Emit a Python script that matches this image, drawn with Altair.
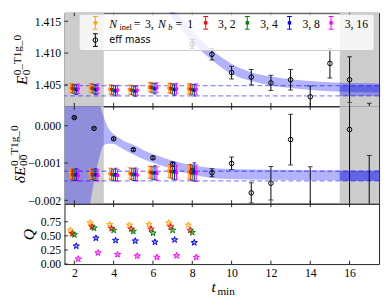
import altair as alt
import pandas as pd

# ---------------- data ----------------
x_ticks = [2, 4, 6, 8, 10, 12, 14, 16]
top_ticks = [1.405, 1.410, 1.415]
mid_ticks = [-0.002, -0.001, 0.000]
q_ticks = [0.00, 0.25, 0.50, 0.75]

gray_start = [1.5, 15.5]
gray_end = [3.5, 17.5]

t_fit = [2, 3, 4, 5, 6, 7, 8]
nb_labels = ["1", "2", "4", "8", "16"]
nb_colors = ["orange", "red", "green", "blue", "magenta"]
nb_shift = [-0.2, -0.1, 0.0, 0.1, 0.2]

E0_nb1 = [1.40450, 1.40450, 1.40430, 1.40425, 1.40465, 1.40450, 1.40440]
E0_nb2 = [1.40445, 1.40445, 1.40425, 1.40420, 1.40460, 1.40445, 1.40435]
E0_nb4 = [1.40435, 1.40435, 1.40415, 1.40410, 1.40450, 1.40435, 1.40425]
E0_nb8 = [1.40425, 1.40425, 1.40405, 1.40400, 1.40440, 1.40425, 1.40415]
E0_nb16 = [1.40440, 1.40440, 1.40420, 1.40415, 1.40455, 1.40440, 1.40430]
E0err_nb1 = [0.00070, 0.00070, 0.00072, 0.00072, 0.00075, 0.00078, 0.00080]
E0err_nb2 = [0.00070, 0.00071, 0.00072, 0.00073, 0.00075, 0.00078, 0.00081]
E0err_nb4 = [0.00072, 0.00072, 0.00074, 0.00074, 0.00077, 0.00080, 0.00083]
E0err_nb8 = [0.00078, 0.00078, 0.00080, 0.00080, 0.00083, 0.00088, 0.00092]
E0err_nb16 = [0.00075, 0.00075, 0.00076, 0.00077, 0.00080, 0.00084, 0.00087]

dE_nb1 = [-0.00128, -0.00128, -0.00128, -0.00127, -0.00124, -0.00121, -0.00123]
dE_nb2 = [-0.00130, -0.00130, -0.00130, -0.00129, -0.00125, -0.00122, -0.00124]
dE_nb4 = [-0.00132, -0.00132, -0.00132, -0.00131, -0.00127, -0.00124, -0.00126]
dE_nb8 = [-0.00131, -0.00131, -0.00131, -0.00130, -0.00126, -0.00122, -0.00124]
dE_nb16 = [-0.00133, -0.00133, -0.00133, -0.00132, -0.00128, -0.00125, -0.00127]
dEerr_nb1 = [0.00014, 0.00014, 0.00015, 0.00015, 0.00016, 0.00018, 0.00020]
dEerr_nb2 = [0.00014, 0.00014, 0.00015, 0.00015, 0.00016, 0.00018, 0.00020]
dEerr_nb4 = [0.00015, 0.00015, 0.00015, 0.00016, 0.00017, 0.00019, 0.00021]
dEerr_nb8 = [0.00016, 0.00016, 0.00017, 0.00017, 0.00019, 0.00023, 0.00025]
dEerr_nb16 = [0.00015, 0.00015, 0.00016, 0.00016, 0.00018, 0.00020, 0.00022]

Q_nb1 = [0.60, 0.73, 0.70, 0.69, 0.70, 0.73, 0.69]
Q_nb2 = [0.54, 0.66, 0.63, 0.62, 0.62, 0.66, 0.60]
Q_nb4 = [0.52, 0.64, 0.60, 0.58, 0.55, 0.60, 0.56]
Q_nb8 = [0.32, 0.46, 0.42, 0.41, 0.39, 0.43, 0.38]
Q_nb16 = [0.09, 0.20, 0.17, 0.145, 0.12, 0.15, 0.12]

# effective mass
t_eff_top = [7, 8, 9, 10, 11, 12, 13, 14, 15, 16, 17]
E_eff = [1.41690, 1.41143, 1.40980, 1.40694, 1.40622, 1.40531, 1.40581,
         1.40312, 1.40837, 1.40581, 1.39850]
E_eff_err = [0.00060, 0.00070, 0.00090, 0.00100, 0.00120, 0.00120, 0.00160,
             0.00170, 0.00230, 0.00360, 0.00360]

t_eff_mid = [2, 3, 4, 5, 6, 7, 8, 9, 10, 11, 12, 13, 14, 15, 16, 17]
dE_eff = [0.00022, -0.00007, -0.00035, -0.00064, -0.00086, -0.00103, -0.00122,
          -0.00126, -0.00101, -0.00180, -0.00154, -0.00037, -0.00230, 0.00220,
          -0.00010, -0.00230]
dE_eff_err = [0.00002, 0.00002, 0.00003, 0.00003, 0.00004, 0.00006, 0.00008,
              0.00011, 0.00017, 0.00027, 0.00045, 0.00068, 0.00120, 0.00150,
              0.00270, 0.00150]

# fit bands
band_top_t = [3.5, 5.0, 6.0, 6.5, 7.0, 7.5, 8.0, 8.5, 9.0, 9.5, 10.0, 11.0,
              12.0, 13.0, 14.0, 15.0, 17.5]
band_top_hi = [1.4700, 1.4360, 1.4238, 1.4203, 1.4175, 1.4153, 1.4135, 1.4118,
               1.4105, 1.4093, 1.4083, 1.4070, 1.4063, 1.4059, 1.4056, 1.4054,
               1.4052]
band_top_lo = [1.4500, 1.4280, 1.4212, 1.4181, 1.4155, 1.4135, 1.4117, 1.4102,
               1.4089, 1.4077, 1.4067, 1.4056, 1.4049, 1.4045, 1.4042, 1.4040,
               1.4038]

band_mid_t = [1.5, 2.0, 2.5, 2.75, 3.0, 3.25, 3.5, 3.75, 4.0, 4.5, 5.0, 5.5,
              6.0, 7.0, 8.0, 9.0, 10.0, 12.0, 14.0, 17.5]
band_mid_hi = [0.0080, 0.0050, 0.0028, 0.0018, 0.0011, 0.00065, 0.00023,
               -0.00008, -0.00022, -0.00040, -0.00051, -0.00065, -0.00076,
               -0.00094, -0.00106, -0.00113, -0.00116, -0.00118, -0.00119,
               -0.00120]
band_mid_lo = [-0.0100, -0.0065, -0.0035, -0.0023, -0.0015, -0.0009, -0.00052,
               -0.00048, -0.00049, -0.00063, -0.00077, -0.00089, -0.00099,
               -0.00116, -0.00131, -0.00140, -0.00143, -0.00145, -0.00146,
               -0.00147]

plateau_t = [15.5, 17.5]
plateau_top = [1.40327, 1.40489]
plateau_mid = [-0.00148, -0.00122]

# ---------------- layout ----------------
W = 323
H1, H2, H3 = 96, 100, 62
X_DOM = [1.5, 17.5]
TOP_DOM = [1.40163, 1.41633]
MID_DOM = [-0.00209, 0.000522]
Q_DOM = [0.0, 1.07]
SERIF = "Liberation Serif"
SANS = "DejaVu Sans"
FRAME = "#222222"
STAR = ("M0,-1L0.2245,-0.309L0.9511,-0.309L0.3633,0.118L0.5878,0.809L0,0.382"
        "L-0.5878,0.809L-0.3633,0.118L-0.9511,-0.309L-0.2245,-0.309Z")

xs = alt.Scale(domain=X_DOM, nice=False, zero=False)
cscale = alt.Scale(domain=nb_labels, range=nb_colors)
dummy = pd.DataFrame({"d": [0]})

# tables
rows = []
allE = [E0_nb1, E0_nb2, E0_nb4, E0_nb8, E0_nb16]
allEe = [E0err_nb1, E0err_nb2, E0err_nb4, E0err_nb8, E0err_nb16]
allD = [dE_nb1, dE_nb2, dE_nb4, dE_nb8, dE_nb16]
allDe = [dEerr_nb1, dEerr_nb2, dEerr_nb4, dEerr_nb8, dEerr_nb16]
allQ = [Q_nb1, Q_nb2, Q_nb4, Q_nb8, Q_nb16]
for k, lab in enumerate(nb_labels):
    for i, t in enumerate(t_fit):
        rows.append(dict(nb=lab, t=t + nb_shift[k],
                         v1=allE[k][i], lo1=allE[k][i] - allEe[k][i], hi1=allE[k][i] + allEe[k][i],
                         v2=allD[k][i], lo2=allD[k][i] - allDe[k][i], hi2=allD[k][i] + allDe[k][i],
                         q=allQ[k][i]))
fits = pd.DataFrame(rows)

eff_top = pd.DataFrame({"t": t_eff_top, "v": E_eff,
                        "lo": [a - b for a, b in zip(E_eff, E_eff_err)],
                        "hi": [a + b for a, b in zip(E_eff, E_eff_err)]})
eff_mid = pd.DataFrame({"t": t_eff_mid, "v": dE_eff,
                        "lo": [a - b for a, b in zip(dE_eff, dE_eff_err)],
                        "hi": [a + b for a, b in zip(dE_eff, dE_eff_err)]})
btop = pd.DataFrame({"t": band_top_t, "lo": band_top_lo, "hi": band_top_hi})
bmid = pd.DataFrame({"t": band_mid_t, "lo": band_mid_lo, "hi": band_mid_hi})
ptop = pd.DataFrame({"t": plateau_t, "lo": [plateau_top[0]] * 2, "hi": [plateau_top[1]] * 2})
pmid = pd.DataFrame({"t": plateau_t, "lo": [plateau_mid[0]] * 2, "hi": [plateau_mid[1]] * 2})
gray = pd.DataFrame({"a": gray_start, "b": gray_end})
xt = pd.DataFrame({"t": x_ticks})


def yaxis(vals, fmt):
    return alt.Axis(values=vals, format=fmt, title=None, tickSize=0, domain=False,
                    grid=False, labelPadding=4, labelFont=SERIF, labelFontSize=12,
                    labelColor="black")


def txt(s, x, y, size=12, style="normal", angle=0, font=SERIF):
    return alt.Chart(dummy).mark_text(
        text=s, fontSize=size, fontStyle=style, font=font, angle=angle,
        align="left", baseline="alphabetic", color="black"
    ).encode(x=alt.value(x), y=alt.value(y))


def panel_common(H, ys, yax, yt, xax):
    X = lambda f: alt.X(f + ":Q", scale=xs, axis=xax)
    layers = []
    layers.append(alt.Chart(xt).mark_rule(color=FRAME, strokeWidth=1).encode(
        x=X("t"), y=alt.value(0), y2=alt.value(3.5)))
    layers.append(alt.Chart(xt).mark_rule(color=FRAME, strokeWidth=1).encode(
        x=X("t"), y=alt.value(H - 3.5), y2=alt.value(H)))
    layers.append(alt.Chart(pd.DataFrame({"v": yt})).mark_rule(color=FRAME, strokeWidth=1).encode(
        y=alt.Y("v:Q", scale=ys, axis=yax), x=alt.value(0), x2=alt.value(3.5)))
    return layers


def errbars(df, X, Y, lo, hi, color_enc=None, color="black", cap=5):
    enc_c = {"color": color_enc} if color_enc is not None else {}
    kw = {} if color_enc is not None else {"color": color}
    r = alt.Chart(df).mark_rule(strokeWidth=1, clip=True, **kw).encode(
        x=X("t"), y=Y(lo), y2=alt.Y2(hi + ":Q"), **enc_c)
    c1 = alt.Chart(df).mark_tick(orient="horizontal", size=cap, thickness=1, clip=True, **kw).encode(
        x=X("t"), y=Y(lo), **enc_c)
    c2 = alt.Chart(df).mark_tick(orient="horizontal", size=cap, thickness=1, clip=True, **kw).encode(
        x=X("t"), y=Y(hi), **enc_c)
    return [r, c1, c2]


def energy_panel(H, dom, yt, fmt, band, plateau, eff, vcol, locol, hicol):
    ys = alt.Scale(domain=dom, nice=False, zero=False)
    yax = yaxis(yt, fmt)
    X = lambda f: alt.X(f + ":Q", scale=xs, axis=None)
    Y = lambda f: alt.Y(f + ":Q", scale=ys, axis=yax)
    layers = []
    layers.append(alt.Chart(gray).mark_rect(color="#cccccc").encode(
        x=X("a"), x2=alt.X2("b:Q"), y=alt.value(0), y2=alt.value(H)))
    layers.append(alt.Chart(band).mark_area(color="blue", opacity=0.3, clip=True,
                                            interpolate="monotone").encode(
        x=X("t"), y=Y("lo"), y2=alt.Y2("hi:Q")))
    layers.append(alt.Chart(plateau).mark_area(color="blue", opacity=0.3, clip=True).encode(
        x=X("t"), y=Y("lo"), y2=alt.Y2("hi:Q")))
    lines = pd.DataFrame({"v": [plateau["lo"].iloc[0], plateau["hi"].iloc[0]]})
    layers.append(alt.Chart(lines).mark_rule(color="blue", opacity=0.45, strokeWidth=1.3,
                                             strokeDash=[5, 3]).encode(y=Y("v")))
    layers += errbars(eff, X, Y, "lo", "hi", color="black", cap=5)
    layers.append(alt.Chart(eff).mark_point(shape="circle", filled=False, size=22, color="black",
                                            strokeWidth=1, opacity=1, clip=True).encode(
        x=X("t"), y=Y("v")))
    cenc = alt.Color("nb:N", scale=cscale, legend=None)
    layers += errbars(fits, X, Y, locol, hicol, color_enc=cenc, cap=4)
    layers.append(alt.Chart(fits).mark_point(shape="square", filled=True, size=10, opacity=1,
                                             clip=True).encode(
        x=X("t"), y=Y(vcol), color=cenc))
    layers += panel_common(H, ys, yax, yt, None)
    return layers


# ---- top panel ----
top_layers = energy_panel(H1, TOP_DOM, top_ticks, ".3f", btop, ptop, eff_top, "v1", "lo1", "hi1")
# legend
top_layers.append(alt.Chart(dummy).mark_rect(fill="white", fillOpacity=0.8, stroke="#cccccc",
                                             strokeWidth=1, cornerRadius=3).encode(
    x=alt.value(15), x2=alt.value(318), y=alt.value(1.5), y2=alt.value(38.7)))
leg_mx = [31.7, 145, 187.7, 231, 273.7]
leg_tx = [46, 157.7, 201, 244.3, 287.7]
leg_txt = [None, "3, 2", "3, 4", "3, 8", "3, 16"]


def leg_glyph(x, yc, color, shape, filled):
    out = []
    out.append(alt.Chart(dummy).mark_rule(color=color, strokeWidth=1).encode(
        x=alt.value(x), y=alt.value(yc - 6.5), y2=alt.value(yc + 6.5)))
    for yy in (yc - 6.5, yc + 6.5):
        out.append(alt.Chart(dummy).mark_rule(color=color, strokeWidth=1).encode(
            x=alt.value(x - 2.5), x2=alt.value(x + 2.5), y=alt.value(yy)))
    out.append(alt.Chart(dummy).mark_point(shape=shape, filled=filled, size=22 if not filled else 12,
                                           color=color, opacity=1, strokeWidth=1).encode(
        x=alt.value(x), y=alt.value(yc)))
    return out


for k in range(5):
    top_layers += leg_glyph(leg_mx[k], 10.3, nb_colors[k], "square", True)
    if leg_txt[k] is not None:
        top_layers.append(txt(leg_txt[k], leg_tx[k], 15.3))
top_layers += [txt("N", 46, 15.3, style="italic"), txt("inel", 56.5, 18, size=8.5),
               txt("=", 71, 15.3), txt("3,", 82.7, 15.3),
               txt("N", 96, 15.3, style="italic"), txt("b", 106.5, 18, size=8.5, style="italic"),
               txt("=", 114, 15.3), txt("1", 126, 15.3)]
top_layers += leg_glyph(31.7, 28, "black", "circle", False)
top_layers.append(txt("eff mass", 46, 31.5, size=10, font=SANS))
# y title
top_layers += [txt("E", -38, 74, size=16, style="italic", angle=270),
               txt("0", -35, 64.2, size=11.5, angle=270),
               txt("0_T1g_0", -45, 64.2, size=11.5, angle=270)]
top = alt.layer(*top_layers).properties(width=W, height=H1)

# ---- middle panel ----
mid_layers = energy_panel(H2, MID_DOM, mid_ticks, ".3f", bmid, pmid, eff_mid, "v2", "lo2", "hi2")
mid_layers += [txt("δE", -41, 79, size=16, style="italic", angle=270),
               txt("00", -38, 61.2, size=11.5, angle=270),
               txt("0_T1g_0", -48, 61.2, size=11.5, angle=270)]
mid = alt.layer(*mid_layers).properties(width=W, height=H2)

# ---- bottom panel ----
qs = alt.Scale(domain=Q_DOM, nice=False, zero=False)
qax = yaxis(q_ticks, ".2f")
xax = alt.Axis(values=x_ticks, format="d", title=None, tickSize=0, domain=False, grid=False,
               labelPadding=4, labelFont=SERIF, labelFontSize=12, labelColor="black",
               labelFlush=False)
bot_layers = [alt.Chart(fits).mark_point(shape=STAR, size=45, strokeWidth=1, fillOpacity=0.35,
                                         opacity=1).encode(
    x=alt.X("t:Q", scale=xs, axis=xax), y=alt.Y("q:Q", scale=qs, axis=qax),
    stroke=alt.Stroke("nb:N", scale=cscale, legend=None),
    fill=alt.Fill("nb:N", scale=cscale, legend=None))]
bot_layers += panel_common(H3, qs, qax, q_ticks, xax)
bot_layers += [txt("Q", -31, 37.5, size=16, style="italic", angle=270),
               txt("t", 151, 91, size=16, style="italic"),
               txt("min", 157, 94, size=11.5)]
bot = alt.layer(*bot_layers).properties(width=W, height=H3)

chart = alt.vconcat(top, mid, bot, spacing=0, bounds="flush", padding=0).configure_view(
    stroke=FRAME, strokeWidth=1)

chart.save("out.html", embed_options={"renderer": "svg", "actions": False})
